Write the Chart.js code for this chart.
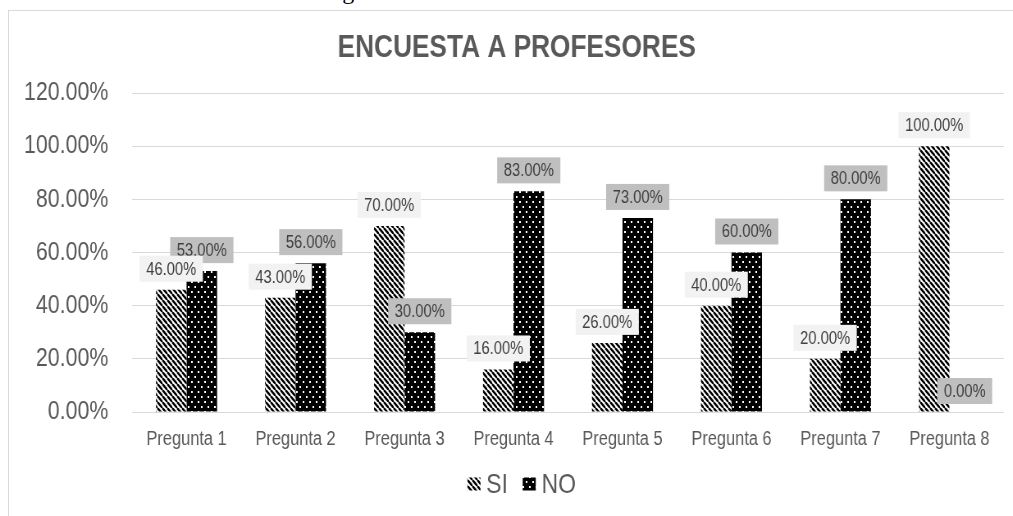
<!DOCTYPE html>
<html>
<head>
<meta charset="utf-8">
<title>Encuesta a profesores</title>
<script src="https://cdn.jsdelivr.net/npm/chart.js@4.4.1/dist/chart.umd.min.js"></script>
<style>
  body { margin: 0; background: #fff; width: 1013px; height: 516px; overflow: hidden; position: relative; }
  #caption {
    position: absolute; left: 5px; top: -21px; margin: 0;
    font: 24px/24px "Liberation Serif", serif; color: #000; white-space: nowrap;
  }
  #frame {
    position: absolute; left: 8px; top: 10px; width: 1200px; height: 700px;
    border: 1px solid #d9d9d9;
  }
  /* the original uses a narrow sans font, so the chart is drawn wider and squeezed */
  #wrap {
    position: absolute; left: 0; top: 0; width: 1235px; height: 516px;
    transform: scaleX(0.8202); transform-origin: 0 0;
  }
</style>
</head>
<body>
<p id="caption"></p>
<div id="frame"></div>
<div id="wrap"><canvas id="myChart" width="1235" height="516"></canvas></div>
<script>
const categories = ["Pregunta 1", "Pregunta 2", "Pregunta 3", "Pregunta 4", "Pregunta 5", "Pregunta 6", "Pregunta 7", "Pregunta 8"];
const siValues = [46, 43, 70, 16, 26, 40, 20, 100];
const noValues = [53, 56, 30, 83, 73, 60, 80, 0];
const yTicks = [0, 20, 40, 60, 80, 100, 120];
const seriesNames = ["SI", "NO"];
const chartTitle = "ENCUESTA A PROFESORES";
const captionText = "resultados como se muestra en la figura 1.";

document.getElementById("caption").textContent = captionText;

const FONT = "'Liberation Sans', Arial, sans-serif";
const GREY_TEXT = "#595959";

// hatch for SI: black diagonal stripes on white
function stripePattern() {
  const c = document.createElement("canvas");
  c.width = 6;
  c.height = 6;
  const g = c.getContext("2d");
  g.fillStyle = "#fff";
  g.fillRect(0, 0, 6, 6);
  g.strokeStyle = "#000";
  g.lineWidth = 2.4;
  for (let k = -6; k <= 6; k += 6) {
    g.beginPath();
    g.moveTo(k, 0);
    g.lineTo(k + 6, 6);
    g.stroke();
  }
  return g.createPattern(c, "repeat");
}

// NO: black with small white dots
function dotPattern() {
  const c = document.createElement("canvas");
  c.width = 8;
  c.height = 10;
  const g = c.getContext("2d");
  g.fillStyle = "#000";
  g.fillRect(0, 0, 8, 10);
  g.fillStyle = "#fff";
  g.fillRect(1, 1, 2, 2);
  g.fillRect(5, 6, 2, 2);
  return g.createPattern(c, "repeat");
}

const titleLegendPlugin = {
  id: "titleLegend",
  afterDraw(chart) {
    const ctx = chart.ctx;
    ctx.save();
    ctx.fillStyle = GREY_TEXT;
    ctx.font = "bold 32px " + FONT;
    ctx.textAlign = "center";
    ctx.textBaseline = "middle";
    ctx.fillText(chartTitle, 630, 48);

    // legend
    ctx.font = "28px " + FONT;
    ctx.textAlign = "left";
    const items = chart.data.datasets.map((ds) => ({
      fill: ds.backgroundColor,
      text: ds.label,
      w: ctx.measureText(ds.label).width,
    }));
    const boxW = 16, boxH = 13, gap = 7, between = 18;
    let total = 0;
    items.forEach((it, i) => {
      total += boxW + gap + it.w + (i > 0 ? between : 0);
    });
    let x = 636 - total / 2;
    const cy = 484;
    items.forEach((it) => {
      ctx.fillStyle = it.fill;
      ctx.fillRect(x, cy - boxH / 2, boxW, boxH);
      x += boxW + gap;
      ctx.fillStyle = GREY_TEXT;
      ctx.fillText(it.text, x, cy + 1);
      x += it.w + between;
    });
    ctx.restore();
  },
};

const labelPlugin = {
  id: "barLabels",
  afterDatasetsDraw(chart) {
    const ctx = chart.ctx;
    ctx.save();
    ctx.font = "18px " + FONT;
    ctx.textAlign = "center";
    ctx.textBaseline = "middle";
    // NO labels first so the SI boxes sit on top, as in the original
    for (let i = chart.data.datasets.length - 1; i >= 0; i--) {
      const ds = chart.data.datasets[i];
      const meta = chart.getDatasetMeta(i);
      meta.data.forEach((bar, j) => {
        const text = ds.data[j].toFixed(2) + "%";
        const w = ctx.measureText(text).width + 16;
        const h = 26;
        const cy = bar.y - 21;
        ctx.fillStyle = ds.labelBg;
        ctx.fillRect(bar.x - w / 2, cy - h / 2, w, h);
        ctx.fillStyle = "#404040";
        ctx.fillText(text, bar.x, cy + 1);
      });
    }
    ctx.restore();
  },
};

const ctx = document.getElementById("myChart").getContext("2d");
const chart = new Chart(ctx, {
  type: "bar",
  data: {
    labels: categories,
    datasets: [
      {
        label: seriesNames[0],
        data: siValues,
        backgroundColor: stripePattern(),
        labelBg: "#f2f2f2",
        borderWidth: 0,
      },
      {
        label: seriesNames[1],
        data: noValues,
        backgroundColor: dotPattern(),
        labelBg: "#bfbfbf",
        borderWidth: 0,
      },
    ],
  },
  options: {
    responsive: false,
    animation: false,
    events: [],
    categoryPercentage: 0.56,
    barPercentage: 1.0,
    layout: {
      padding: { top: 93, right: 11, bottom: 0, left: 0 },
    },
    plugins: {
      legend: { display: false },
      title: { display: false },
      tooltip: { enabled: false },
    },
    scales: {
      x: {
        grid: { display: false },
        border: { display: false },
        ticks: {
          color: GREY_TEXT,
          font: { family: FONT, size: 20 },
          padding: 7,
          maxRotation: 0,
          autoSkip: false,
        },
        afterFit(axis) {
          axis.height = 104;
        },
      },
      y: {
        min: 0,
        max: 120,
        grid: { color: "#d9d9d9", lineWidth: 1, drawTicks: false },
        border: { display: false },
        ticks: {
          color: GREY_TEXT,
          font: { family: FONT, size: 26 },
          padding: 29,
          callback: (v) => v.toFixed(2) + "%",
        },
        afterBuildTicks(axis) {
          axis.ticks = yTicks.map((v) => ({ value: v }));
        },
        afterFit(axis) {
          axis.width = 161;
        },
      },
    },
  },
  plugins: [titleLegendPlugin, labelPlugin],
});
</script>
</body>
</html>
